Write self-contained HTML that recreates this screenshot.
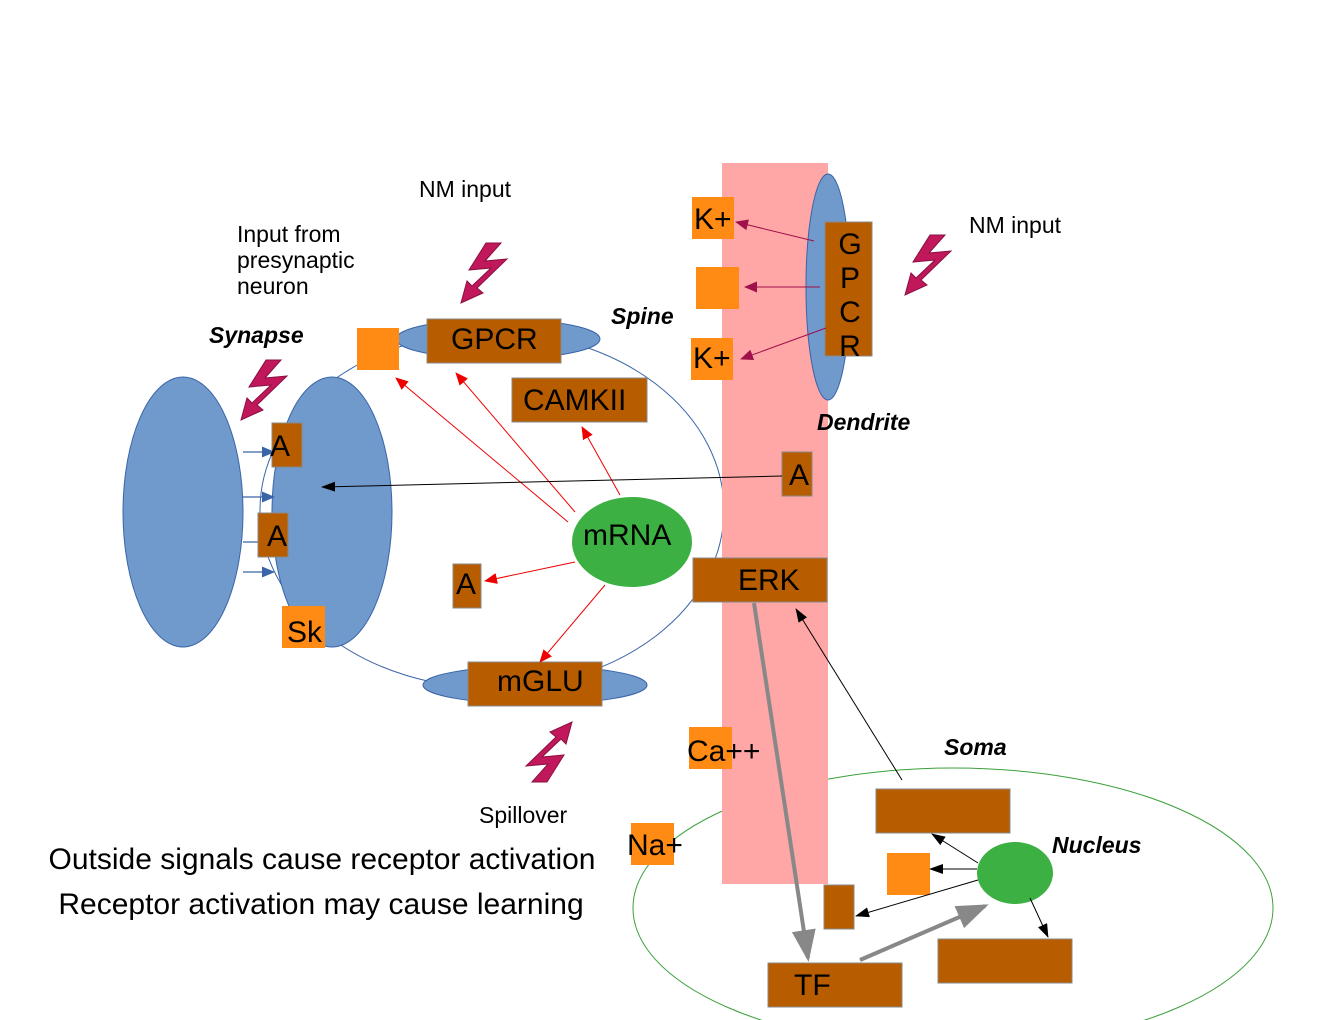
<!DOCTYPE html>
<html><head><meta charset="utf-8"><style>
html,body{margin:0;padding:0;background:#fff;}
svg{display:block;font-family:"Liberation Sans",sans-serif;}
</style></head><body>
<svg width="1320" height="1020" viewBox="0 0 1320 1020" xmlns="http://www.w3.org/2000/svg">
<defs>
<marker id="ab" markerWidth="14" markerHeight="10" refX="13" refY="5" orient="auto" markerUnits="userSpaceOnUse"><path d="M0,0L14,5L0,10Z" fill="#000"/></marker>
<marker id="ar" markerWidth="13" markerHeight="11" refX="12" refY="5.5" orient="auto" markerUnits="userSpaceOnUse"><path d="M0,0L13,5.5L0,11Z" fill="#e00"/></marker>
<marker id="ap" markerWidth="13" markerHeight="11" refX="12" refY="5.5" orient="auto" markerUnits="userSpaceOnUse"><path d="M0,0L13,5.5L0,11Z" fill="#a0104a"/></marker>
<marker id="abl" markerWidth="13" markerHeight="11" refX="12" refY="5.5" orient="auto" markerUnits="userSpaceOnUse"><path d="M0,0L13,5.5L0,11Z" fill="#3a64a8"/></marker>
<marker id="ag" markerWidth="8" markerHeight="6" refX="7" refY="3" orient="auto"><path d="M0,0L8,3L0,6Z" fill="#888"/></marker>
<g id="bolt"><polygon points="25,0 40,0 24,18 46,16 16,45 22,50 0,60 6,38 11,43 30,25 8,27" fill="#c0185a" stroke="#8a1040" stroke-width="1"/></g>
</defs>

<ellipse cx="492" cy="510" rx="232" ry="178" fill="none" stroke="#3a64a8" stroke-width="1"/>
<ellipse cx="953" cy="908" rx="320" ry="140" fill="none" stroke="#3aa03a" stroke-width="1"/>

<ellipse cx="183" cy="512" rx="60" ry="135" fill="#7099cc" stroke="#3a64a8" stroke-width="1"/>
<ellipse cx="332" cy="512" rx="60" ry="135" fill="#7099cc" stroke="#3a64a8" stroke-width="1"/>
<g stroke="#3a64a8" stroke-width="1.2">
<line x1="243" y1="452" x2="274" y2="452" marker-end="url(#abl)"/>
<line x1="243" y1="497" x2="274" y2="497" marker-end="url(#abl)"/>
<line x1="243" y1="542" x2="272" y2="542"/>
<line x1="243" y1="572" x2="274" y2="572" marker-end="url(#abl)"/>
</g>

<rect x="722" y="163" width="106" height="721" fill="#ffa6a6"/>
<ellipse cx="828" cy="287" rx="22" ry="113" fill="#7099cc" stroke="#3a64a8" stroke-width="1"/>
<ellipse cx="498" cy="339" rx="102" ry="20" fill="#7099cc" stroke="#3a64a8" stroke-width="1"/>
<ellipse cx="535" cy="685" rx="112" ry="19" fill="#7099cc" stroke="#3a64a8" stroke-width="1"/>

<g fill="#b85c00" stroke="#888" stroke-width="1">
<rect x="427" y="319" width="134" height="44"/>
<rect x="512" y="378" width="135" height="44"/>
<rect x="468" y="662" width="134" height="44"/>
<rect x="825" y="222" width="47" height="134"/>
<rect x="272" y="423" width="30" height="44"/>
<rect x="258" y="513" width="30" height="44"/>
<rect x="782" y="452" width="30" height="44"/>
<rect x="453" y="564" width="28" height="44"/>
<rect x="693" y="558" width="134" height="44"/>
<rect x="876" y="789" width="134" height="44"/>
<rect x="824" y="885" width="30" height="44"/>
<rect x="938" y="939" width="134" height="44"/>
<rect x="768" y="963" width="134" height="44"/>
</g>
<g fill="#ff8a14">
<rect x="357" y="328" width="42" height="42"/>
<rect x="692" y="197" width="42" height="42"/>
<rect x="696" y="267" width="43" height="42"/>
<rect x="691" y="338" width="42" height="42"/>
<rect x="282" y="606" width="43" height="42"/>
<rect x="689" y="727" width="43" height="42"/>
<rect x="631" y="823" width="43" height="42"/>
<rect x="887" y="853" width="43" height="42"/>
</g>

<ellipse cx="632" cy="542" rx="60" ry="45" fill="#3cb043"/>
<ellipse cx="1015" cy="873" rx="38" ry="31" fill="#3cb043"/>

<g stroke="#e00" stroke-width="1" marker-end="url(#ar)">
<line x1="568" y1="522" x2="396" y2="378"/>
<line x1="575" y1="512" x2="456" y2="373"/>
<line x1="620" y1="495" x2="582" y2="427"/>
<line x1="575" y1="562" x2="485" y2="581"/>
<line x1="605" y1="585" x2="540" y2="662"/>
</g>
<g stroke="#a0104a" stroke-width="1" marker-end="url(#ap)">
<line x1="814" y1="241" x2="736" y2="222"/>
<line x1="820" y1="287" x2="745" y2="287"/>
<line x1="826" y1="328" x2="741" y2="359"/>
</g>
<g stroke="#000" stroke-width="1" marker-end="url(#ab)">
<line x1="782" y1="476" x2="322" y2="487"/>
<line x1="902" y1="780" x2="796" y2="609"/>
<line x1="978" y1="863" x2="932" y2="834"/>
<line x1="977" y1="869" x2="930" y2="869"/>
<line x1="978" y1="880" x2="856" y2="916"/>
<line x1="1030" y1="898" x2="1048" y2="937"/>
</g>
<line x1="754" y1="603" x2="808" y2="958" stroke="#888" stroke-width="4" marker-end="url(#ag)"/>
<line x1="860" y1="960" x2="985" y2="906" stroke="#888" stroke-width="4" marker-end="url(#ag)"/>

<use href="#bolt" transform="translate(241,360)"/>
<use href="#bolt" transform="translate(461,243)"/>
<use href="#bolt" transform="translate(905,235)"/>
<use href="#bolt" transform="translate(572,782) scale(-1,-1)"/>

<g font-size="30" fill="#000">
<text x="451" y="349">GPCR</text>
<text x="523" y="410">CAMKII</text>
<text x="497" y="691">mGLU</text>
<text x="738" y="590">ERK</text>
<text x="583" y="545">mRNA</text>
<text x="794" y="995">TF</text>
<text x="270" y="456">A</text>
<text x="267" y="546">A</text>
<text x="789" y="485">A</text>
<text x="456" y="594">A</text>
<text x="287" y="642">Sk</text>
<text x="694" y="229">K+</text>
<text x="693" y="368">K+</text>
<text x="687" y="761">Ca++</text>
<text x="627" y="855">Na+</text>
</g>
<g font-size="30" fill="#000" text-anchor="middle">
<text x="850" y="254">G</text>
<text x="850" y="288">P</text>
<text x="850" y="322">C</text>
<text x="850" y="356">R</text>
</g>
<g font-size="23" fill="#000">
<text x="419" y="197">NM input</text>
<text x="969" y="233">NM input</text>
<text x="237" y="242">Input from</text>
<text x="237" y="268">presynaptic</text>
<text x="237" y="294">neuron</text>
<text x="479" y="823">Spillover</text>
</g>
<g font-size="23" font-weight="bold" font-style="italic" fill="#000">
<text x="209" y="343">Synapse</text>
<text x="611" y="324">Spine</text>
<text x="817" y="430">Dendrite</text>
<text x="944" y="755">Soma</text>
<text x="1052" y="853">Nucleus</text>
</g>
<g font-size="30" fill="#000" text-anchor="middle">
<text x="322" y="869">Outside signals cause receptor activation</text>
<text x="321" y="914">Receptor activation may cause learning</text>
</g>
</svg>
</body></html>
